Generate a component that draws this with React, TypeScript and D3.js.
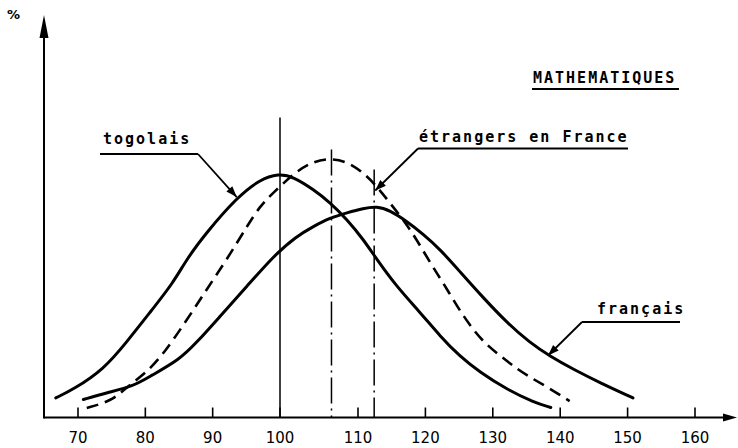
import React from 'react';
import * as d3 from 'd3';

const xTicks = [70, 80, 90, 100, 110, 120, 130, 140, 150, 160];

const togolaisX = [66.7, 69.3, 73.8, 77.2, 80.7, 84.2, 86.1, 89.1, 93.6, 97.0, 99.8, 101.7, 104.3, 106.4, 108.6, 110.8, 112.8, 115.7, 119.2, 122.2, 125.1, 128.1, 132.1, 136.1, 138.6];
const togolaisY = [4.9, 7.0, 12.0, 18.8, 26.3, 33.8, 39.5, 46.3, 55.0, 59.5, 61.0, 60.2, 57.0, 53.8, 49.5, 44.5, 39.5, 32.8, 26.3, 20.3, 15.3, 11.3, 7.0, 3.8, 2.5];

const francaisX = [70.8, 74.3, 78.2, 80.7, 85.1, 87.6, 91.1, 95.1, 99.0, 102.1, 104.3, 106.4, 108.6, 110.8, 112.8, 114.7, 117.2, 119.7, 122.2, 125.1, 128.6, 132.1, 135.5, 138.5, 142.0, 145.9, 150.8];
const francaisY = [4.5, 6.2, 7.8, 10.3, 14.5, 18.7, 25.3, 32.8, 40.3, 45.3, 47.8, 49.9, 51.2, 52.3, 52.8, 51.8, 49.1, 45.8, 42.0, 36.5, 29.9, 23.7, 18.7, 15.3, 12.0, 8.7, 4.9];

const etrangersX = [71.3, 75.0, 77.4, 80.2, 82.7, 86.1, 89.1, 92.1, 95.1, 97.0, 99.0, 102.1, 104.3, 106.4, 108.6, 110.8, 112.8, 114.7, 116.7, 118.7, 120.7, 122.7, 124.7, 126.7, 128.7, 131.2, 133.7, 136.1, 138.7, 141.4];
const etrangersY = [2.4, 4.1, 7.8, 11.3, 15.9, 24.2, 32.0, 39.5, 47.8, 52.8, 56.2, 61.6, 64.0, 64.8, 64.0, 61.2, 57.8, 53.7, 49.5, 44.5, 38.7, 33.5, 27.8, 22.8, 18.7, 15.3, 12.0, 9.5, 7.0, 4.1];

// reference (mean) lines: value and top extent
const refLineX = [100, 106.6, 112.4];
const refLineTop = [75, 67, 62];
const refLineKind = ['solid', 'dashdot', 'dashdot'];

// arrow tips on the curves (data coords)
const tipTogolais = [93.57, 55.1];
const tipEtrangers = [112.56, 56.75];
const tipFrancais = [138.2, 15.5];

const title = 'MATHEMATIQUES';
const yLabel = '%';

const W = 738;
const H = 448;

const x = d3.scaleLinear().domain([70, 100, 110, 160]).range([78, 280, 358, 695]);
const y = d3.scaleLinear().domain([0, 100]).range([417.5, 17.5]);

const line = d3
  .line<[number, number]>()
  .x((d) => x(d[0]))
  .y((d) => y(d[1]))
  .curve(d3.curveBasis);

function zipPts(xs: number[], ys: number[]): [number, number][] {
  return xs.map((v, i) => [v, ys[i]] as [number, number]);
}

function arrowHead(x1: number, y1: number, x2: number, y2: number, L = 11, hw = 4) {
  const dx = x2 - x1;
  const dy = y2 - y1;
  const len = Math.sqrt(dx * dx + dy * dy);
  const ux = dx / len;
  const uy = dy / len;
  const bx = x2 - ux * L;
  const by = y2 - uy * L;
  const nx = -uy;
  const ny = ux;
  return `M${x2},${y2}L${bx + nx * hw},${by + ny * hw}L${bx - nx * hw},${by - ny * hw}Z`;
}

const labelFont = '"DejaVu Sans Mono", "Liberation Mono", monospace';

export default function App() {
  const y0 = y(0);
  const axisLeft = 44;

  const tT = [x(tipTogolais[0]), y(tipTogolais[1])];
  const tE = [x(tipEtrangers[0]), y(tipEtrangers[1])];
  const tF = [x(tipFrancais[0]), y(tipFrancais[1])];

  const elbowT = [198, 154];
  const elbowE = [418, 148.5];
  const elbowF = [582, 322];

  return (
    <svg
      width={W}
      height={H}
      viewBox={`0 0 ${W} ${H}`}
      style={{ position: 'absolute', left: 0, top: 0, background: '#fff' }}
    >
      <rect x={0} y={0} width={W} height={H} fill="#fff" />

      {/* axes */}
      <line x1={axisLeft} y1={y0} x2={728} y2={y0} stroke="#000" strokeWidth={2} />
      <path d={arrowHead(axisLeft, y0, 737, y0, 14, 4)} fill="#000" />
      <line x1={axisLeft} y1={y0 + 1} x2={axisLeft} y2={32} stroke="#000" strokeWidth={2} />
      <path d={arrowHead(axisLeft, y0, axisLeft, 15, 23, 4.5)} fill="#000" />
      <text x={7} y={19} fontFamily='"DejaVu Sans", sans-serif' fontSize={13} fontWeight="bold">
        {yLabel}
      </text>

      {/* ticks */}
      {xTicks.map((t) => (
        <g key={t}>
          <line x1={x(t)} y1={y0} x2={x(t)} y2={y0 - 10} stroke="#000" strokeWidth={1.6} />
          <text
            x={x(t)}
            y={443}
            textAnchor="middle"
            fontFamily='"DejaVu Sans", sans-serif'
            fontSize={15}
            fill="#000"
          >
            {t}
          </text>
        </g>
      ))}

      {/* reference lines */}
      {refLineX.map((v, i) => (
        <line
          key={v}
          x1={x(v)}
          x2={x(v)}
          y1={y(refLineTop[i])}
          y2={y0}
          stroke="#000"
          strokeWidth={1.5}
          strokeDasharray={refLineKind[i] === 'solid' ? undefined : '26 5 2 5'}
        />
      ))}

      {/* curves */}
      <path d={line(zipPts(togolaisX, togolaisY)) || ''} fill="none" stroke="#000" strokeWidth={3} strokeLinecap="round" />
      <path d={line(zipPts(francaisX, francaisY)) || ''} fill="none" stroke="#000" strokeWidth={3} strokeLinecap="round" />
      <path
        d={line(zipPts(etrangersX, etrangersY)) || ''}
        fill="none"
        stroke="#000"
        strokeWidth={2.6}
        strokeDasharray="12 7"
      />

      {/* title */}
      <text x={533} y={83} fontFamily={labelFont} fontSize={15} fontWeight="bold" letterSpacing={2} fill="#000">
        {title}
      </text>
      <line x1={532} y1={89} x2={679} y2={89} stroke="#000" strokeWidth={1.8} />

      {/* togolais label */}
      <text x={103} y={144} fontFamily={labelFont} fontSize={15} fontWeight="bold" letterSpacing={2} fill="#000">
        togolais
      </text>
      <line x1={100} y1={154} x2={elbowT[0]} y2={elbowT[1]} stroke="#000" strokeWidth={1.8} />
      <line x1={elbowT[0]} y1={elbowT[1]} x2={tT[0]} y2={tT[1]} stroke="#000" strokeWidth={1.8} />
      <path d={arrowHead(elbowT[0], elbowT[1], tT[0], tT[1])} fill="#000" />

      {/* étrangers label */}
      <text x={419} y={142} fontFamily={labelFont} fontSize={15} fontWeight="bold" letterSpacing={2} fill="#000">
        étrangers en France
      </text>
      <line x1={elbowE[0]} y1={elbowE[1]} x2={628} y2={elbowE[1]} stroke="#000" strokeWidth={1.8} />
      <line x1={elbowE[0]} y1={elbowE[1]} x2={tE[0]} y2={tE[1]} stroke="#000" strokeWidth={1.8} />
      <path d={arrowHead(elbowE[0], elbowE[1], tE[0], tE[1])} fill="#000" />

      {/* français label */}
      <text x={597} y={314} fontFamily={labelFont} fontSize={15} fontWeight="bold" letterSpacing={2} fill="#000">
        français
      </text>
      <line x1={elbowF[0]} y1={elbowF[1]} x2={680} y2={elbowF[1]} stroke="#000" strokeWidth={1.8} />
      <line x1={elbowF[0]} y1={elbowF[1]} x2={tF[0]} y2={tF[1]} stroke="#000" strokeWidth={1.8} />
      <path d={arrowHead(elbowF[0], elbowF[1], tF[0], tF[1])} fill="#000" />
    </svg>
  );
}
